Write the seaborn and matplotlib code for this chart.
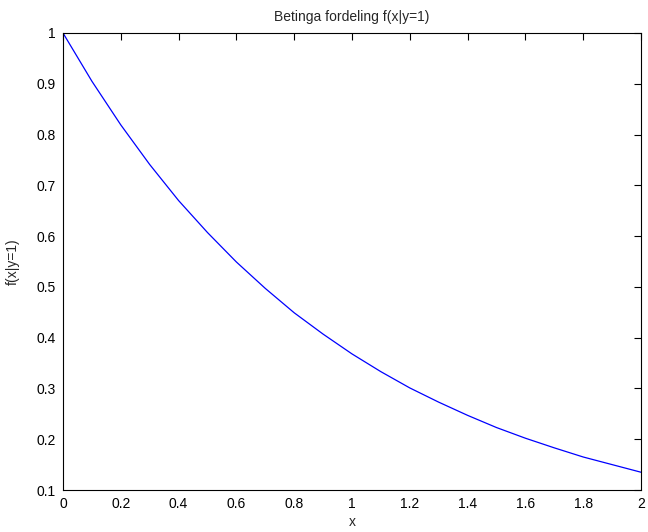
import matplotlib
matplotlib.use("Agg")
import matplotlib.pyplot as plt
import seaborn as sns
import pandas as pd

x_vals = [0.0, 0.1, 0.2, 0.3, 0.4, 0.5, 0.6, 0.7, 0.8, 0.9, 1.0,
          1.1, 1.2, 1.3, 1.4, 1.5, 1.6, 1.7, 1.8, 1.9, 2.0]
f_vals = [1.0, 0.905, 0.819, 0.741, 0.670, 0.607, 0.549, 0.497, 0.449, 0.407, 0.368,
          0.333, 0.301, 0.273, 0.247, 0.223, 0.202, 0.183, 0.165, 0.150, 0.135]
x_ticks = [0, 0.2, 0.4, 0.6, 0.8, 1, 1.2, 1.4, 1.6, 1.8, 2]
x_tick_labels = ["0", "0.2", "0.4", "0.6", "0.8", "1", "1.2", "1.4", "1.6", "1.8", "2"]
y_ticks = [0.1, 0.2, 0.3, 0.4, 0.5, 0.6, 0.7, 0.8, 0.9, 1]
y_tick_labels = ["0.1", "0.2", "0.3", "0.4", "0.5", "0.6", "0.7", "0.8", "0.9", "1"]

sns.set_style("white")
plt.rcParams['font.family'] = ['Liberation Sans', 'DejaVu Sans']

df = pd.DataFrame({"x": x_vals, "f": f_vals})

fig = plt.figure(figsize=(6.48, 5.32), dpi=100)
ax = fig.add_axes([63/648, (532-490)/532, (641-63)/648, (490-33)/532])
sns.lineplot(data=df, x="x", y="f", ax=ax, color=(0, 0, 1), linewidth=0.9)

ax.set_xlim(0, 2)
ax.set_ylim(0.1, 1)
ax.set_xticks(x_ticks)
ax.set_xticklabels(x_tick_labels)
ax.set_yticks(y_ticks)
ax.set_yticklabels(y_tick_labels)
ax.tick_params(direction="in", length=5, width=0.8, top=True, right=True,
               labelsize=10, colors="black", pad=5)
for s in ax.spines.values():
    s.set_visible(True)
    s.set_color("black")
    s.set_linewidth(0.8)
ax.set_xlabel("x", fontsize=10, labelpad=3)
ax.set_ylabel("f(x|y=1)", fontsize=10, labelpad=12)
ax.set_title("Betinga fordeling f(x|y=1)", fontsize=10, pad=9)

fig.savefig("out.png", dpi=100)
